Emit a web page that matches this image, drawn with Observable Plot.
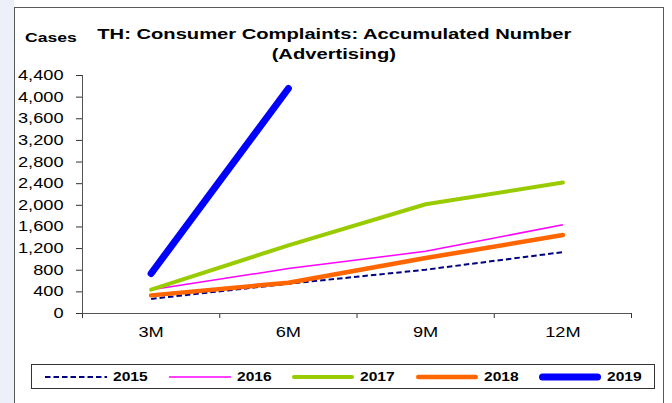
<!DOCTYPE html>
<html>
<head>
<meta charset="utf-8">
<script src="https://cdn.jsdelivr.net/npm/d3@7"></script>
<script src="https://cdn.jsdelivr.net/npm/@observablehq/plot@0.6"></script>
<style>
  html, body { margin: 0; padding: 0; background: #ffffff; }
  #wrap { position: relative; width: 672px; height: 403px; overflow: hidden; font-family: "Liberation Sans", Arial, sans-serif; background: #fff; }
  #strip { position: absolute; left: 0; top: 0; width: 14px; height: 403px; background: #edf0f9; }
  #frame { position: absolute; left: 14px; top: 7px; width: 650px; height: 420px; box-sizing: border-box; border: 1.5px solid #5a5a5a; background: #fff; }
  #chart { position: absolute; left: 0; top: 0; }
  .stretch { display: inline-block; transform: scaleX(1.3); }
  #title { position: absolute; left: 0; top: 24px; width: 668px; text-align: center; font-weight: bold; font-size: 15.5px; line-height: 19.5px; color: #000; }
  #title .stretch { transform-origin: center; }
  #ylab { position: absolute; left: 25px; top: 30px; font-weight: bold; font-size: 13.5px; color: #000; }
  #ylab .stretch { transform-origin: left; }
  #legend { position: absolute; left: 31px; top: 364px; width: 624px; height: 25px; box-sizing: border-box; border: 1px solid #333; background: #fff; display: flex; align-items: center; padding-left: 13px; }
  .item { width: 123.6px; display: flex; align-items: center; flex: none; }
  .item span { font-weight: bold; font-size: 13px; transform: scaleX(1.2); transform-origin: left; display: inline-block; margin-left: 6px; }
</style>
</head>
<body>
<div id="wrap">
  <div id="strip"></div>
  <div id="frame"></div>
  <div id="chart"></div>
  <div id="ylab"><span class="stretch">Cases</span></div>
  <div id="title"><span class="stretch">TH: Consumer Complaints: Accumulated Number</span><br><span class="stretch">(Advertising)</span></div>
  <div id="legend"></div>
</div>
<script>
// ---- data ----
const categories = ["3M", "6M", "9M", "12M"];
const years = ["2015", "2016", "2017", "2018", "2019"];
const v2015 = [270, 550, 810, 1135];
const v2016 = [440, 830, 1150, 1640];
const v2017 = [440, 1260, 2020, 2420];
const v2018 = [335, 570, 1025, 1450];
const v2019 = [740, 4160];
const yTicks = [0, 400, 800, 1200, 1600, 2000, 2400, 2800, 3200, 3600, 4000, 4400];

// ---- styles ----
const seriesValues = [v2015, v2016, v2017, v2018, v2019];
const styles = {
  "2015": {stroke: "#000080", strokeWidth: 2, dash: "5.5,3", cap: "butt"},
  "2016": {stroke: "#ff00ff", strokeWidth: 1.5, dash: null, cap: "butt"},
  "2017": {stroke: "#99cc00", strokeWidth: 4, dash: null, cap: "round"},
  "2018": {stroke: "#ff6600", strokeWidth: 4.5, dash: null, cap: "round"},
  "2019": {stroke: "#0000ff", strokeWidth: 7, dash: null, cap: "round"}
};

const rows = years.map((y, k) => seriesValues[k].map((v, i) => ({i, value: v, year: y})));
const boundaries = d3.range(categories.length + 1).map(i => i - 0.5);

const lineMarks = years.map((y, k) => Plot.line(rows[k], {
  x: "i", y: "value",
  stroke: styles[y].stroke,
  strokeWidth: styles[y].strokeWidth,
  strokeDasharray: styles[y].dash || undefined,
  strokeLinecap: styles[y].cap,
  strokeLinejoin: "round"
}));

const chart = Plot.plot({
  width: 672,
  height: 345,
  marginLeft: 82,
  marginRight: 41,
  marginTop: 75,
  marginBottom: 32,
  x: {type: "linear", domain: [-0.5, categories.length - 0.5]},
  y: {domain: [0, 4400]},
  style: {background: "transparent", fontFamily: "'Liberation Sans', Arial, sans-serif", fontSize: "14px", color: "#000", overflow: "visible"},
  marks: [
    Plot.axisY({ticks: yTicks, tickFormat: d3.format(","), tickSize: 6, tickPadding: 13, label: null, stroke: "#333", strokeOpacity: 1}),
    Plot.axisX({ticks: boundaries, tickFormat: () => "", tickSize: 5, label: null, stroke: "#333", strokeOpacity: 1}),
    Plot.axisX({ticks: d3.range(categories.length), tickFormat: i => categories[i], tickSize: 0, tickPadding: 14, label: null}),
    Plot.ruleY([0], {stroke: "#555"}),
    Plot.ruleX([boundaries[0]], {y1: yTicks[0], y2: yTicks[yTicks.length - 1], stroke: "#555"}),
    ...lineMarks
  ]
});
document.getElementById("chart").appendChild(chart);

// stretch axis text horizontally like the reference
chart.querySelectorAll("text").forEach(t => {
  if (!t.textContent) return;
  const len = t.getComputedTextLength();
  t.setAttribute("textLength", (len * 1.3).toFixed(2));
  t.setAttribute("lengthAdjust", "spacingAndGlyphs");
});

// legend
const legend = document.getElementById("legend");
years.forEach(y => {
  const s = styles[y];
  const item = document.createElement("div");
  item.className = "item";
  const ns = "http://www.w3.org/2000/svg";
  const svg = document.createElementNS(ns, "svg");
  svg.setAttribute("width", 62);
  svg.setAttribute("height", 12);
  const ln = document.createElementNS(ns, "line");
  const pad = s.cap === "round" ? s.strokeWidth / 2 : 0;
  ln.setAttribute("x1", pad); ln.setAttribute("x2", 62 - pad);
  ln.setAttribute("y1", 6); ln.setAttribute("y2", 6);
  ln.setAttribute("stroke", s.stroke);
  ln.setAttribute("stroke-width", s.strokeWidth);
  ln.setAttribute("stroke-linecap", s.cap);
  if (s.dash) ln.setAttribute("stroke-dasharray", s.dash);
  svg.appendChild(ln);
  const lab = document.createElement("span");
  lab.textContent = y;
  item.appendChild(svg);
  item.appendChild(lab);
  legend.appendChild(item);
});
</script>
</body>
</html>
